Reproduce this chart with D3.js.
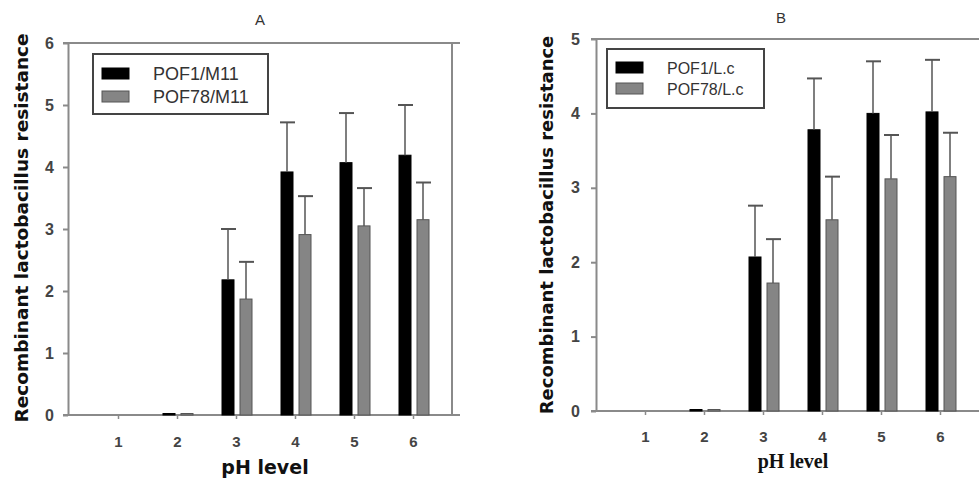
<!DOCTYPE html>
<html>
<head>
<meta charset="utf-8">
<script src="https://cdn.jsdelivr.net/npm/d3@7"></script>
<style>
  body { margin: 0; background: #fff; }
  svg { display: block; }
</style>
</head>
<body>
<script>
// pH levels on the x axis
const phLevels = [1, 2, 3, 4, 5, 6];

// Panel A: M11 strains (mean and upper error)
const meanA_POF1 = [0, 0.02, 2.18, 3.92, 4.07, 4.19];
const errA_POF1 = [0, 0, 0.82, 0.80, 0.80, 0.81];
const meanA_POF78 = [0, 0.02, 1.87, 2.91, 3.05, 3.15];
const errA_POF78 = [0, 0, 0.60, 0.62, 0.61, 0.60];

// Panel B: L.c strains
const meanB_POF1 = [0, 0.02, 2.07, 3.78, 4.00, 4.02];
const errB_POF1 = [0, 0, 0.69, 0.69, 0.70, 0.70];
const meanB_POF78 = [0, 0.02, 1.72, 2.57, 3.12, 3.15];
const errB_POF78 = [0, 0, 0.59, 0.58, 0.59, 0.59];

const yTicksA = [0, 1, 2, 3, 4, 5, 6];
const yTicksB = [0, 1, 2, 3, 4, 5];

const svg = d3.select('body').append('svg')
  .attr('width', 979)
  .attr('height', 485);

/**
 * Draw one bar panel
 */
function drawPanel(p) {
  const g = svg.append('g');
  const x = d3.scaleLinear().domain([1, 6]).range(p.xRange);
  const y = d3.scaleLinear().domain([0, d3.max(p.yTicks)]).range([p.bottom, p.top]);

  // top frame line and right frame
  g.append('line')
    .attr('x1', p.left - 5).attr('x2', p.lineEnd)
    .attr('y1', p.top).attr('y2', p.top)
    .attr('stroke', '#8a8a8a').attr('stroke-width', 2);
  if (p.right) {
    g.append('line')
      .attr('x1', p.right).attr('x2', p.right)
      .attr('y1', p.top).attr('y2', p.bottom)
      .attr('stroke', '#8a8a8a').attr('stroke-width', 2);
  }

  // y axis
  const yAxis = g.append('g')
    .attr('transform', `translate(${p.left},0)`)
    .call(d3.axisLeft(y).tickValues(p.yTicks).tickFormat(d3.format('d'))
      .tickSize(5).tickPadding(p.yPad).tickSizeOuter(0));
  yAxis.select('.domain').attr('stroke', '#8a8a8a').attr('stroke-width', 2);
  yAxis.selectAll('.tick line').attr('stroke', '#8a8a8a').attr('stroke-width', 2);
  yAxis.selectAll('.tick text')
    .attr('fill', '#444')
    .style('font-family', 'Liberation Sans, Arial, sans-serif')
    .style('font-weight', 'bold')
    .style('font-size', '16px');

  // x axis baseline
  g.append('line')
    .attr('x1', p.left - 5).attr('x2', p.lineEnd)
    .attr('y1', p.bottom).attr('y2', p.bottom)
    .attr('stroke', '#8a8a8a').attr('stroke-width', 2);
  const xAxis = g.append('g')
    .attr('transform', `translate(0,${p.bottom})`)
    .call(d3.axisBottom(x).tickValues(phLevels).tickFormat(d3.format('d'))
      .tickSize(4).tickPadding(p.xPad).tickSizeOuter(0));
  xAxis.select('.domain').remove();
  xAxis.selectAll('.tick line').attr('stroke', '#8a8a8a').attr('stroke-width', 1.5);
  xAxis.selectAll('.tick text')
    .attr('fill', '#444')
    .style('font-family', 'Liberation Sans, Arial, sans-serif')
    .style('font-weight', 'bold')
    .style('font-size', '15px');

  // bars
  const series = [
    { mean: p.mean1, err: p.err1, fill: '#000', stroke: '#000', dx: -14 },
    { mean: p.mean2, err: p.err2, fill: '#858585', stroke: '#555', dx: 4 }
  ];
  series.forEach(s => {
    const rows = phLevels.map((ph, i) => ({ ph, v: s.mean[i], e: s.err[i] }));
    g.selectAll(null).data(rows).enter().append('rect')
      .attr('x', d => x(d.ph) + s.dx)
      .attr('width', 12)
      .attr('y', d => Math.min(y(d.v), p.bottom - 1.5))
      .attr('height', d => d.v > 0 ? Math.max(p.bottom - y(d.v), 1.5) : 0)
      .attr('fill', s.fill)
      .attr('stroke', s.stroke)
      .attr('stroke-width', 1);

    const withErr = rows.filter(d => d.e > 0);
    g.selectAll(null).data(withErr).enter().append('line')
      .attr('x1', d => x(d.ph) + s.dx + 6).attr('x2', d => x(d.ph) + s.dx + 6)
      .attr('y1', d => y(d.v)).attr('y2', d => y(d.v + d.e))
      .attr('stroke', '#555').attr('stroke-width', 1.5);
    g.selectAll(null).data(withErr).enter().append('line')
      .attr('x1', d => x(d.ph) + s.dx - 1).attr('x2', d => x(d.ph) + s.dx + 14)
      .attr('y1', d => y(d.v + d.e)).attr('y2', d => y(d.v + d.e))
      .attr('stroke', '#555').attr('stroke-width', 2);
  });

  // legend
  const lg = g.append('g');
  lg.append('rect')
    .attr('x', p.legend.x).attr('y', p.legend.y)
    .attr('width', p.legend.w).attr('height', p.legend.h)
    .attr('fill', '#fff').attr('stroke', '#444').attr('stroke-width', 2);
  p.labels.forEach((lab, i) => {
    const yy = p.legend.y + p.legend.row0 + i * p.legend.step;
    lg.append('rect')
      .attr('x', p.legend.x + 9).attr('y', yy - 6)
      .attr('width', 27).attr('height', 11)
      .attr('fill', series[i].fill).attr('stroke', series[i].stroke);
    lg.append('text')
      .attr('x', p.legend.x + p.legend.tx).attr('y', yy)
      .attr('dy', '0.35em')
      .attr('fill', '#333')
      .style('font-family', 'Liberation Sans, Arial, sans-serif')
      .style('font-size', p.legend.fs)
      .text(lab);
  });

  // titles
  g.append('text')
    .attr('x', p.titleX).attr('y', p.titleY)
    .attr('text-anchor', 'middle')
    .attr('fill', '#333')
    .style('font-family', 'Liberation Sans, Arial, sans-serif')
    .style('font-size', '15px')
    .text(p.title);

  g.append('text')
    .attr('transform', `translate(${p.yTitleX},${p.yTitleY}) rotate(-90)`)
    .attr('text-anchor', 'middle')
    .attr('dy', '0.35em')
    .attr('fill', '#111')
    .style('font-family', 'DejaVu Sans, Verdana, sans-serif')
    .style('font-weight', 'bold')
    .style('font-size', p.yTitleSize)
    .text('Recombinant lactobacillus resistance');

  g.append('text')
    .attr('x', p.xTitleX).attr('y', p.xTitleY)
    .attr('text-anchor', 'middle')
    .attr('dy', '0.35em')
    .attr('fill', '#111')
    .style('font-family', p.xTitleFont)
    .style('font-weight', 'bold')
    .style('font-size', p.xTitleSize)
    .text('pH level');
}

drawPanel({
  title: 'A', titleX: 260, titleY: 25,
  left: 68, right: 452, lineEnd: 460, top: 43, bottom: 415,
  xRange: [118, 413], yTicks: yTicksA, yPad: 9, xPad: 17,
  mean1: meanA_POF1, err1: errA_POF1, mean2: meanA_POF78, err2: errA_POF78,
  labels: ['POF1/M11', 'POF78/M11'],
  legend: { x: 93, y: 54, w: 175, h: 60, row0: 20, step: 23, tx: 60, fs: '18px' },
  yTitleX: 22, yTitleY: 228, yTitleSize: '18.5px',
  xTitleX: 265, xTitleY: 467, xTitleFont: 'DejaVu Sans, Verdana, sans-serif', xTitleSize: '19px'
});

drawPanel({
  title: 'B', titleX: 781, titleY: 23,
  left: 596, right: null, lineEnd: 979, top: 39, bottom: 411,
  xRange: [645, 940], yTicks: yTicksB, yPad: 11, xPad: 16,
  mean1: meanB_POF1, err1: errB_POF1, mean2: meanB_POF78, err2: errB_POF78,
  labels: ['POF1/L.c', 'POF78/L.c'],
  legend: { x: 607, y: 49, w: 157, h: 59, row0: 19, step: 21, tx: 60, fs: '16px' },
  yTitleX: 547, yTitleY: 225, yTitleSize: '18px',
  xTitleX: 793, xTitleY: 461, xTitleFont: 'Liberation Serif, Times New Roman, serif', xTitleSize: '20px'
});
</script>
</body>
</html>
